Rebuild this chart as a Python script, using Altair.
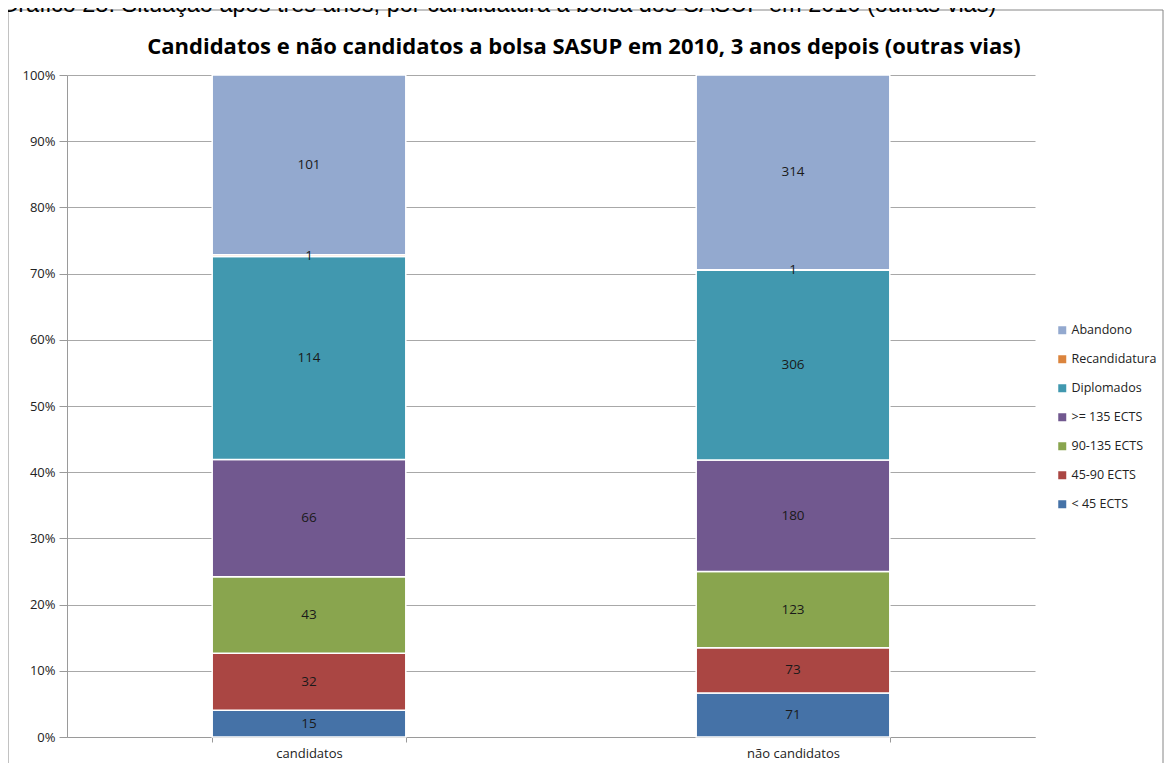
import altair as alt
import pandas as pd

grupos = ["candidatos", "não candidatos"]
situacoes = ["< 45 ECTS", "45-90 ECTS", "90-135 ECTS", ">= 135 ECTS",
             "Diplomados", "Recandidatura", "Abandono"]
cores = ["#4572A7", "#AA4643", "#89A54E", "#71588F", "#4198AF", "#DB843D", "#93A9CF"]
val_candidatos = [15, 32, 43, 66, 114, 1, 101]
val_nao_candidatos = [71, 73, 123, 180, 306, 1, 314]

titulo = "Candidatos e não candidatos a bolsa SASUP em 2010, 3 anos depois (outras vias)"
legenda_titulo = "Gráfico 28: Situação após três anos, por candidatura à bolsa dos SASUP em 2010 (outras vias)"

rows = []
for g, vals in zip(grupos, [val_candidatos, val_nao_candidatos]):
    for i, (s, v) in enumerate(zip(situacoes, vals)):
        rows.append({"grupo": g, "situacao": s, "n": v, "idx": i})
df = pd.DataFrame(rows)

W, H = 968, 662
FONT = "Open Sans"

xenc = alt.X("grupo:N", sort=grupos, title=None,
             scale=alt.Scale(paddingInner=0.6, paddingOuter=0.3),
             axis=alt.Axis(labelAngle=0, tickBand="extent", labelFont=FONT,
                           labelFontSize=13, labelColor="#222222", labelPadding=5,
                           domainColor="#9a9a9a", tickColor="#9a9a9a", tickSize=5,
                           grid=False))

color = alt.Color("situacao:N",
                  scale=alt.Scale(domain=situacoes[::-1], range=cores[::-1]),
                  legend=alt.Legend(title=None, orient="none", legendX=989, legendY=249,
                                    symbolType="square", symbolSize=64,
                                    symbolStrokeWidth=0, labelFont=FONT,
                                    labelFontSize=12.5, labelColor="#222222",
                                    rowPadding=16, labelOffset=3))

bars = alt.Chart(df).mark_bar(stroke="white", strokeWidth=1.5).encode(
    x=xenc,
    y=alt.Y("n:Q", stack="normalize", title=None,
            scale=alt.Scale(domain=[0, 1]),
            axis=alt.Axis(format=".0%", values=[i / 10 for i in range(11)],
                          labelFont=FONT, labelFontSize=13, labelColor="#222222",
                          domainColor="#9a9a9a", tickColor="#9a9a9a", tickSize=8,
                          gridColor="#a8a8a8", labelPadding=4)),
    color=color,
    order=alt.Order("idx:Q"),
)

labels = alt.Chart(df).transform_joinaggregate(
    total="sum(n)", groupby=["grupo"]
).transform_calculate(
    p="datum.n / datum.total"
).transform_stack(
    stack="p", groupby=["grupo"], sort=[alt.SortField("idx")], as_=["p0", "p1"]
).transform_calculate(
    mid="(datum.p0 + datum.p1) / 2"
).mark_text(font=FONT, fontSize=13.5, color="#1a1a1a", baseline="middle").encode(
    x=alt.X("grupo:N", sort=grupos),
    y=alt.Y("mid:Q"),
    text="n:Q",
)

one = pd.DataFrame({"a": [0]})
frame = alt.Chart(one).mark_rect(fill=None, stroke="#868686", strokeWidth=1).encode(
    x=alt.value(-59), x2=alt.value(1096), y=alt.value(-65), y2=alt.value(720)
)
title_mark = alt.Chart(one).mark_text(
    text=titulo, font=FONT, fontSize=22, fontWeight="bold", color="#000000",
    align="center", baseline="alphabetic"
).encode(x=alt.value(517), y=alt.value(-21))
caption = alt.Chart(one).mark_text(
    text=legenda_titulo, font="Liberation Sans", fontSize=23.5, color="#000000",
    align="left", baseline="alphabetic"
).encode(x=alt.value(-67), y=alt.value(-63))

chart = alt.layer(frame, caption, title_mark, bars, labels).properties(
    width=W, height=H,
    autosize=alt.AutoSizeParams(type="none"),
    padding={"left": 59, "top": 67, "right": 129, "bottom": 26},
).configure_view(stroke=None).resolve_scale(y="shared")

chart.save("out.html", embed_options={"renderer": "svg", "actions": False})
